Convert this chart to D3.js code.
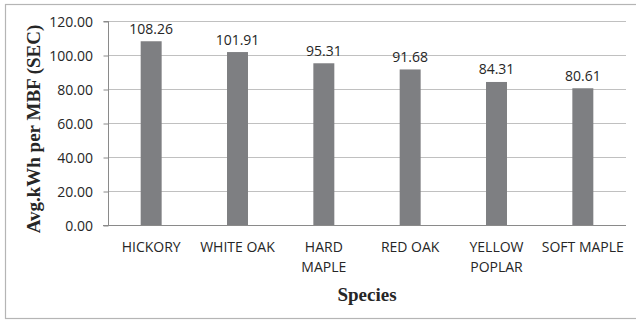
<!DOCTYPE html>
<html>
<head>
<meta charset="utf-8">
<script src="https://cdn.jsdelivr.net/npm/d3@7/dist/d3.min.js"></script>
<style>
  html, body { margin: 0; padding: 0; background: #fff; }
  svg { display: block; }
</style>
</head>
<body>
<svg id="chart" width="636" height="320"></svg>
<script>
// Average energy use per thousand board feet, by species
const species = ["HICKORY", "WHITE OAK", "HARD MAPLE", "RED OAK", "YELLOW POPLAR", "SOFT MAPLE"];
const speciesLines = [["HICKORY"], ["WHITE OAK"], ["HARD", "MAPLE"], ["RED OAK"], ["YELLOW", "POPLAR"], ["SOFT MAPLE"]];
const avgKwh = [108.26, 101.91, 95.31, 91.68, 84.31, 80.61];
const yTicks = [0, 20, 40, 60, 80, 100, 120];

const svg = d3.select("#chart");
const W = 636, H = 320;
const plot = { left: 108, right: 626, top: 21.3, bottom: 225.3 };
const labelFont = "'Open Sans', 'DejaVu Sans', sans-serif";
const titleFont = "'Liberation Serif', 'Times New Roman', serif";
const textColor = "#262626";

svg.append("rect").attr("width", W).attr("height", H).attr("fill", "#fff");

// outer frame
svg.append("rect")
  .attr("x", 5.5).attr("y", 4.5)
  .attr("width", W + 10).attr("height", 314)
  .attr("fill", "none").attr("stroke", "#b5b5b5").attr("stroke-width", 1.2);

const x = d3.scaleBand().domain(species).range([plot.left, plot.right]).padding(0);
const y = d3.scaleLinear().domain([0, 120]).range([plot.bottom, plot.top]);
const barW = x.bandwidth() * 0.243;

// horizontal gridlines
svg.append("g")
  .selectAll("line")
  .data(yTicks.filter(t => t > 0))
  .join("line")
  .attr("x1", plot.left).attr("x2", plot.right)
  .attr("y1", d => Math.round(y(d)) + 0.5).attr("y2", d => Math.round(y(d)) + 0.5)
  .attr("stroke", "#c0c0c0").attr("stroke-width", 1.2);

// y axis
const yAxis = svg.append("g")
  .attr("transform", `translate(${plot.left + 0.5},0.5)`)
  .call(d3.axisLeft(y).tickValues(yTicks).tickSize(5).tickPadding(10.5)
    .tickFormat(d3.format(".2f")));
yAxis.select(".domain").attr("stroke", "#8a8a8a").attr("d", `M-5,${Math.round(y(0))}H0V${Math.round(y(120))}H-5`);
yAxis.selectAll(".tick line").attr("stroke", "#8a8a8a").attr("transform", d => `translate(0,${Math.round(y(d)) - y(d)})`);
yAxis.selectAll(".tick text")
  .attr("font-family", labelFont).attr("font-size", 14).attr("fill", textColor);

// bars
svg.append("g")
  .selectAll("rect")
  .data(avgKwh)
  .join("rect")
  .attr("x", (d, i) => x(species[i]) + (x.bandwidth() - barW) / 2)
  .attr("y", d => y(d))
  .attr("width", barW)
  .attr("height", d => y(0) - y(d))
  .attr("fill", "#7e7f82");

// x axis baseline
svg.append("line")
  .attr("x1", plot.left - 5).attr("x2", plot.right)
  .attr("y1", Math.round(y(0)) + 0.5).attr("y2", Math.round(y(0)) + 0.5)
  .attr("stroke", "#8a8a8a").attr("stroke-width", 1.2);

// value labels
svg.append("g")
  .selectAll("text")
  .data(avgKwh)
  .join("text")
  .attr("x", (d, i) => x(species[i]) + x.bandwidth() / 2)
  .attr("y", d => y(d) - 7.5)
  .attr("text-anchor", "middle")
  .attr("font-family", labelFont).attr("font-size", 14).attr("fill", textColor)
  .text(d => d3.format(".2f")(d));

// category labels
const cat = svg.append("g")
  .selectAll("text")
  .data(species)
  .join("text")
  .attr("x", d => x(d) + x.bandwidth() / 2)
  .attr("y", 251.7)
  .attr("text-anchor", "middle")
  .attr("font-family", labelFont).attr("font-size", 14).attr("fill", textColor);
cat.each(function(d, i) {
  d3.select(this).selectAll("tspan")
    .data(speciesLines[i])
    .join("tspan")
    .attr("x", x(d) + x.bandwidth() / 2)
    .attr("dy", (t, j) => j === 0 ? 0 : 20.6)
    .text(t => t);
});

// axis titles
svg.append("text")
  .attr("x", (plot.left + plot.right) / 2).attr("y", 301)
  .attr("text-anchor", "middle")
  .attr("font-family", titleFont).attr("font-weight", "bold").attr("font-size", 19)
  .attr("fill", textColor)
  .text("Species");

svg.append("text")
  .attr("transform", `translate(40,129) rotate(-90)`)
  .attr("text-anchor", "middle")
  .attr("font-family", titleFont).attr("font-weight", "bold").attr("font-size", 19)
  .attr("fill", textColor)
  .text("Avg.kWh per MBF (SEC)");
</script>
</body>
</html>
